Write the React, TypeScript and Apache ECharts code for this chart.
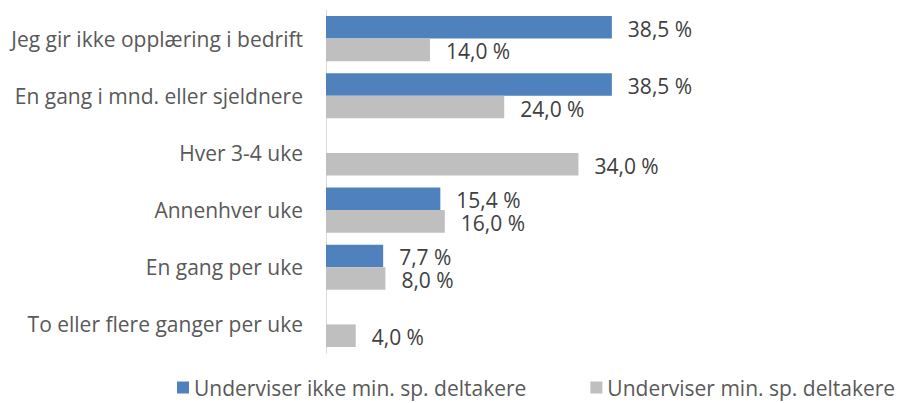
import React, { useEffect, useRef } from "react";
import * as echarts from "echarts";

const categories = [
  "Jeg gir ikke opplæring i bedrift",
  "En gang i mnd. eller sjeldnere",
  "Hver 3-4 uke",
  "Annenhver uke",
  "En gang per uke",
  "To eller flere ganger per uke",
];
const seriesNames = ["Underviser ikke min. sp. deltakere", "Underviser min. sp. deltakere"];
const blueValues: (number | null)[] = [38.5, 38.5, null, 15.4, 7.7, null];
const grayValues: (number | null)[] = [14.0, 24.0, 34.0, 16.0, 8.0, 4.0];

const FONT = "'Open Sans', sans-serif";

export default function App() {
  const ref = useRef<HTMLDivElement>(null);
  useEffect(() => {
    document.body.style.margin = "0";
    const chart = echarts.init(ref.current!, null, { renderer: "svg" });
    const fmt = (p: any) => p.value == null ? "" : p.value.toFixed(1).replace(".", ",") + " %";
    const label = {
      show: true,
      position: "right",
      distance: 16,
      offset: [0, 1.5],
      formatter: fmt,
      color: "#404040",
      fontSize: 21,
      lineHeight: 21,
      fontFamily: FONT,
    };
    chart.setOption({
      animation: false,
      textStyle: { fontFamily: FONT },
      legend: {
        left: 177,
        top: 377,
        width: 725,
        padding: 0,
        itemWidth: 12,
        itemHeight: 12,
        itemGap: 64,
        itemTextGap: 6,
        icon: "rect",
        textStyle: { color: "#595959", fontSize: 21, fontFamily: FONT },
        data: seriesNames,
      },
      grid: { left: 326, top: 10, width: 297, height: 343, containLabel: false },
      xAxis: {
        type: "value",
        min: 0,
        max: 40,
        show: false,
        splitLine: { show: false },
      },
      yAxis: {
        type: "category",
        inverse: true,
        data: categories,
        axisLine: { show: true, lineStyle: { color: "#D9D9D9", width: 1 } },
        axisTick: { show: false },
        axisLabel: { color: "#595959", fontSize: 21, fontFamily: FONT, margin: 23 },
      },
      series: [
        {
          name: seriesNames[0],
          type: "bar",
          data: blueValues,
          barGap: "0%",
          barCategoryGap: "21%",
          itemStyle: { color: "#4F81BD" },
          label,
        },
        {
          name: seriesNames[1],
          type: "bar",
          data: grayValues,
          barGap: "0%",
          barCategoryGap: "21%",
          itemStyle: { color: "#BFBFBF" },
          label,
        },
      ],
    });
    return () => chart.dispose();
  }, []);
  return <div ref={ref} style={{ width: 902, height: 403 }} />;
}
